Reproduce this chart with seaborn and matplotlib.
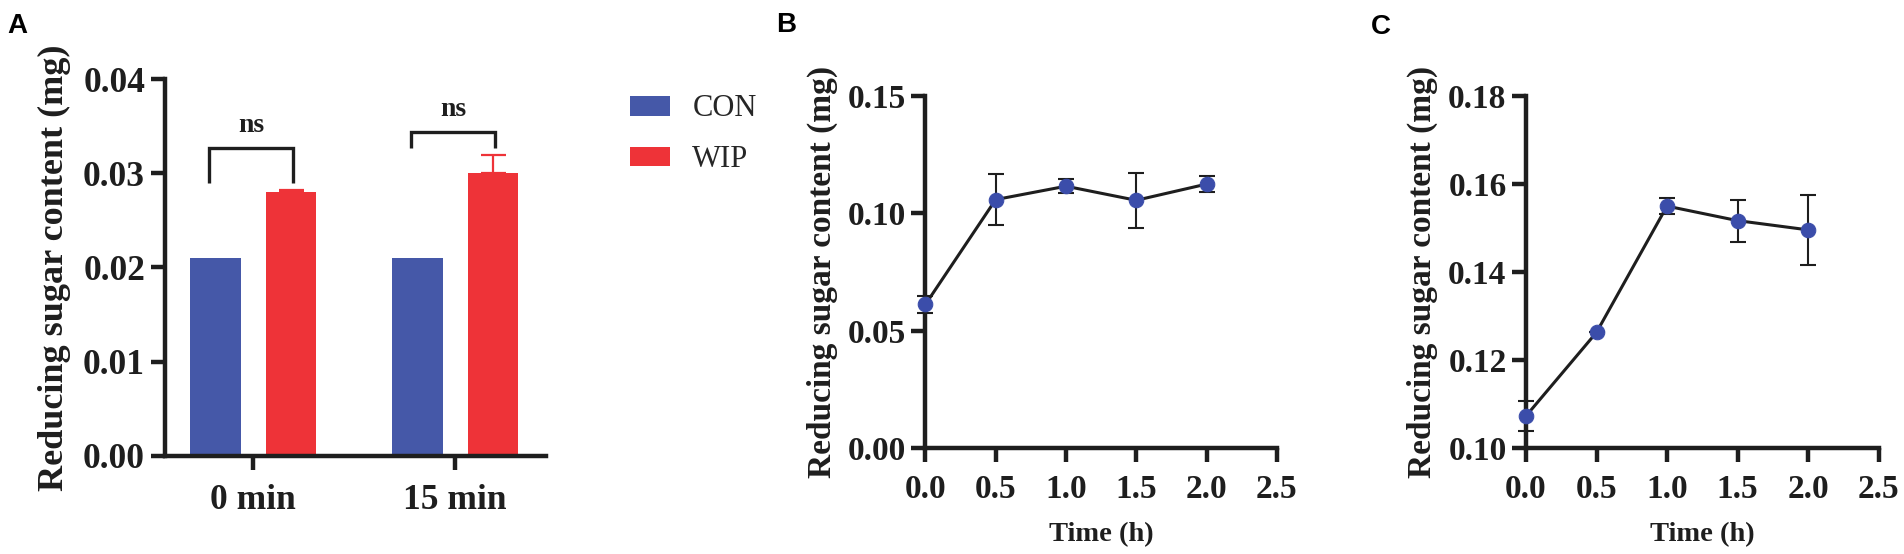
import numpy as np
import pandas as pd
import matplotlib
matplotlib.use("Agg")
import matplotlib.pyplot as plt
from matplotlib.ticker import FormatStrFormatter
import seaborn as sns

# ---------------- data ----------------
# Panel A
time_points_a = ["0 min", "15 min"]
groups_a = ["CON", "WIP"]
con_values = [0.021, 0.021]
wip_values = [0.028, 0.030]
con_err = [0.0, 0.0]
wip_err = [0.00026, 0.0019]
bracket_tops = [0.0327, 0.0344]
bracket_legs = [0.0290, 0.0327]
sig_labels = ["ns", "ns"]
yticks_a = [0.00, 0.01, 0.02, 0.03, 0.04]

# Panel B
time_h = [0.0, 0.5, 1.0, 1.5, 2.0]
sugar_b = [0.0612, 0.1059, 0.1116, 0.1056, 0.1125]
err_b = [0.0036, 0.0110, 0.0030, 0.0116, 0.0035]
yticks_b = [0.00, 0.05, 0.10, 0.15]

# Panel C
sugar_c = [0.1073, 0.1263, 0.1550, 0.1517, 0.1496]
err_c = [0.0035, 0.0, 0.0018, 0.0048, 0.0080]
yticks_c = [0.10, 0.12, 0.14, 0.16, 0.18]

xticks_t = [0.0, 0.5, 1.0, 1.5, 2.0, 2.5]

# ---------------- style ----------------
sns.set_style("ticks")
plt.rcParams["font.family"] = ["Liberation Serif", "DejaVu Serif"]

BLUE = "#4558A8"
RED = "#EE3338"
MARK = "#3B4DAA"
INK = "#1e1e1e"
SPINE_LW = 3.2

W, H = 1904, 554
fig = plt.figure(figsize=(W / 100, H / 100), dpi=100)


def rect(l, t, r, b):
    return [l / W, 1 - b / H, (r - l) / W, (b - t) / H]


axA = fig.add_axes(rect(164.5, 79, 546, 455.8))
axB = fig.add_axes(rect(925.4, 96.1, 1276.8, 448.1))
axC = fig.add_axes(rect(1526, 96.1, 1878.5, 448.1))


def style_axis(ax, tick_fs, xpad):
    for s in ["top", "right"]:
        ax.spines[s].set_visible(False)
    for s in ["left", "bottom"]:
        ax.spines[s].set_linewidth(SPINE_LW)
        ax.spines[s].set_color(INK)
    ax.tick_params(axis="both", width=SPINE_LW, length=10, color=INK,
                   labelsize=tick_fs, labelcolor=INK)
    ax.tick_params(axis="y", pad=4)
    ax.tick_params(axis="x", pad=xpad)
    for lab in ax.get_xticklabels() + ax.get_yticklabels():
        lab.set_fontweight("bold")


# ---------------- Panel A ----------------
df_a = pd.DataFrame({
    "time": time_points_a * 2,
    "group": [groups_a[0]] * 2 + [groups_a[1]] * 2,
    "value": con_values + wip_values,
})
err_map = {groups_a[0]: con_err, groups_a[1]: wip_err}
col_map = {groups_a[0]: BLUE, groups_a[1]: RED}

sns.barplot(data=df_a, x="time", y="value", hue="group", order=time_points_a,
            hue_order=groups_a, palette=[BLUE, RED], width=0.75, gap=1 / 3,
            errorbar=None, saturation=1, linewidth=0, ax=axA)

centers = {}
for cont, grp in zip(axA.containers, groups_a):
    for i, bar in enumerate(cont):
        xc = bar.get_x() + bar.get_width() / 2
        h = bar.get_height()
        centers[(grp, i)] = xc
        e = err_map[grp][i]
        if e > 0:
            axA.errorbar([xc], [h], yerr=[[0], [e]], fmt="none", ecolor=col_map[grp],
                         elinewidth=1.6, capsize=9, capthick=1.6, zorder=3)

for i in range(len(time_points_a)):
    l = centers[(groups_a[0], i)] - 0.03
    r = centers[(groups_a[1], i)] + 0.008
    axA.plot([l, l, r, r], [bracket_legs[i], bracket_tops[i], bracket_tops[i], bracket_legs[i]],
             color=INK, lw=2.4, solid_joinstyle="miter", solid_capstyle="butt", clip_on=False)
    axA.annotate(sig_labels[i], xy=((l + r) / 2, bracket_tops[i]), xytext=(0, 11.5),
                 textcoords="offset points", ha="center", va="baseline",
                 fontsize=20, fontweight="bold", color=INK)

axA.set_xlim(-0.44, 1.45)
axA.set_ylim(0, 0.04)
axA.set_yticks(yticks_a)
axA.yaxis.set_major_formatter(FormatStrFormatter("%.2f"))
axA.set_xlabel("")
axA.set_ylabel("Reducing sugar content (mg)", fontsize=26, fontweight="bold",
               color=INK, labelpad=9)
style_axis(axA, 25.5, 10)

handles, labels = axA.get_legend_handles_labels()
axA.legend(handles, labels, loc="upper left", bbox_to_anchor=(630 / W, 1 - 94.5 / H),
           bbox_transform=fig.transFigure, frameon=False,
           prop={"family": "Liberation Serif", "size": 22},
           handlelength=1.31, handleheight=0.62, handletextpad=0.73,
           labelspacing=0.71, borderpad=0, borderaxespad=0)


# ---------------- Panels B & C ----------------
def line_panel(ax, yvals, yerrs, yticks):
    df = pd.DataFrame({"time": time_h, "sugar": yvals})
    ax.errorbar(time_h, yvals, yerr=yerrs, fmt="none", ecolor=INK, elinewidth=1.5,
                capsize=6, capthick=1.5, zorder=2.5, clip_on=False)
    sns.lineplot(data=df, x="time", y="sugar", ax=ax, color=INK, lw=2.2, marker="o",
                 markersize=10.5, markerfacecolor=MARK, markeredgecolor=MARK,
                 errorbar=None, zorder=3)
    for ln in ax.lines:
        ln.set_clip_on(False)
    ax.set_xlim(0, 2.5)
    ax.set_xticks(xticks_t)
    ax.xaxis.set_major_formatter(FormatStrFormatter("%.1f"))
    ax.set_ylim(yticks[0], yticks[-1])
    ax.set_yticks(yticks)
    ax.yaxis.set_major_formatter(FormatStrFormatter("%.2f"))
    ax.set_xlabel("Time (h)", fontsize=20.5, fontweight="bold", color=INK, labelpad=12)
    ax.set_ylabel("Reducing sugar content (mg)", fontsize=24, fontweight="bold",
                  color=INK, labelpad=7)
    style_axis(ax, 24, 8.6)


line_panel(axB, sugar_b, err_b, yticks_b)
line_panel(axC, sugar_c, err_c, yticks_c)

# ---------------- panel letters ----------------
for lbl, x, y in [("A", 7.3, 33.3), ("B", 776, 31.8), ("C", 1370.6, 33.6)]:
    fig.text(x / W, 1 - y / H, lbl, ha="left", va="baseline", fontsize=20,
             fontweight="bold", family="Liberation Sans", color="black")

fig.savefig("out.png", dpi=100)
